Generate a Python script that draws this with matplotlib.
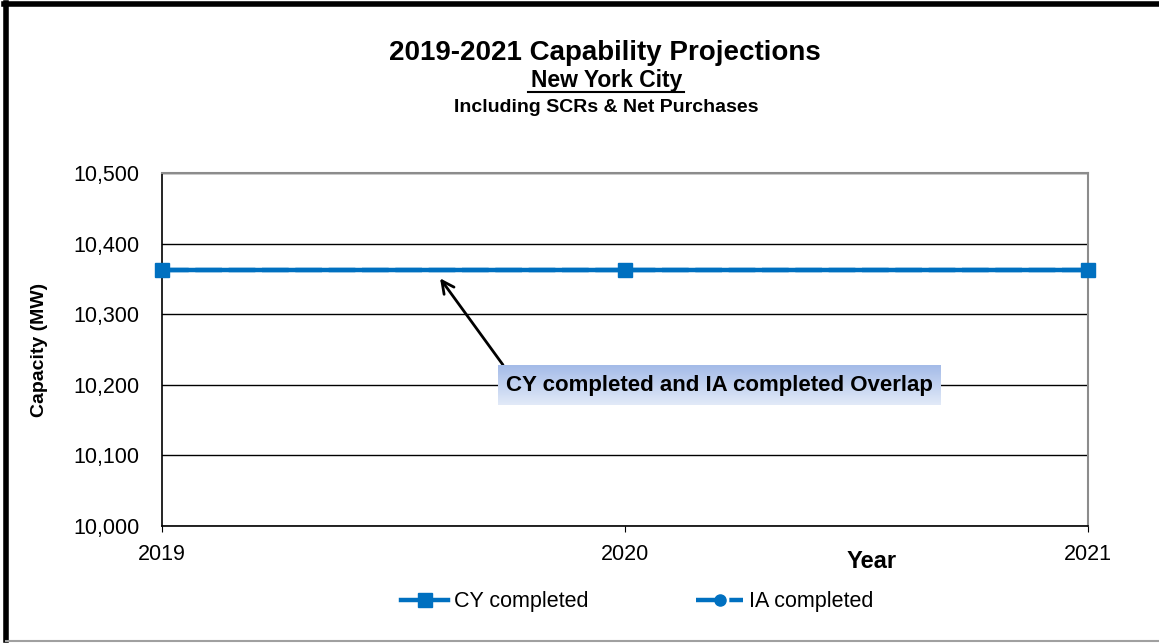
import numpy as np
import matplotlib
matplotlib.use('Agg')
import matplotlib.pyplot as plt
from matplotlib.lines import Line2D

plt.rcParams['font.family'] = ['Liberation Sans', 'DejaVu Sans']

# Capability projections, New York City (MW)
years = [2019, 2020, 2021]
cy_completed = [10362, 10362, 10362]
ia_completed = [10362, 10362, 10362]
y_ticks = [10000, 10100, 10200, 10300, 10400, 10500]

W, H = 1159, 643
fig = plt.figure(figsize=(W / 100, H / 100), dpi=100)
ax = fig.add_axes([162 / W, 1 - 526 / H, (1088 - 162) / W, (526 - 173) / H])

blue = '#0070c0'
ax.plot(years, cy_completed, color=blue, lw=3.2, marker='s', markersize=10,
        label='CY completed', zorder=3, clip_on=False)
ax.plot(years, ia_completed, color=blue, lw=3.2, ls=(0, (6, 1.5)), marker='o',
        markersize=8, label='IA completed', zorder=4, clip_on=False)

ax.set_xlim(2019, 2021)
ax.set_ylim(10000, 10500)
ax.set_xticks(years)
ax.set_yticks(y_ticks)
ax.set_yticklabels([f'{v:,}' for v in y_ticks])
ax.tick_params(axis='both', labelsize=15.5)
ax.tick_params(axis='x', direction='out', length=4, pad=9)
ax.tick_params(axis='y', length=0, pad=16)
ax.grid(axis='y', color='black', lw=1)
ax.set_axisbelow(True)
for s in ['left', 'bottom']:
    ax.spines[s].set_color('black')
    ax.spines[s].set_linewidth(1.2)
for s in ['top', 'right']:
    ax.spines[s].set_color('#8c8c8c')
    ax.spines[s].set_linewidth(1.5)

ax.set_ylabel('Capacity (MW)', fontsize=14, fontweight='bold')
ax.yaxis.set_label_coords((48 - 162) / 926, 0.5)
fig.text(872 / W, 1 - 561 / H, 'Year', fontsize=17, fontweight='bold',
         ha='center', va='center')

# titles
fig.text(605 / W, 1 - 53 / H, '2019-2021 Capability Projections', fontsize=20,
         fontweight='bold', ha='center', va='center')
fig.text(607 / W, 1 - 80 / H, 'New York City', fontsize=16.5,
         fontweight='bold', ha='center', va='center')
fig.add_artist(Line2D([528 / W, 684 / W], [1 - 92 / H, 1 - 92 / H],
                      color='black', lw=1.5))
fig.text(606 / W, 1 - 107 / H, 'Including SCRs & Net Purchases', fontsize=14,
         fontweight='bold', ha='center', va='center')

# gradient box behind the overlap note
bx0, bx1, by0, by1 = 498, 940, 365, 405
gax = fig.add_axes([bx0 / W, 1 - by1 / H, (bx1 - bx0) / W, (by1 - by0) / H])
grad = np.linspace(0, 1, 64)[:, None]
top_c = np.array([0xa4, 0xbb, 0xe8]) / 255
bot_c = np.array([0xe2, 0xea, 0xf8]) / 255
img = top_c[None, None, :] * (1 - grad[:, :, None]) + bot_c[None, None, :] * grad[:, :, None]
gax.imshow(np.repeat(img, 4, axis=1), aspect='auto', extent=[0, 1, 0, 1])
gax.axis('off')
gax.text(0.5, 0.5, 'CY completed and IA completed Overlap', fontsize=16,
         fontweight='bold', ha='center', va='center', transform=gax.transAxes)

ax.annotate('', xy=(2019.597, 10354), xytext=(2019.74, 10225),
            arrowprops=dict(arrowstyle='->', color='black', lw=2,
                            mutation_scale=22))

fig.legend(loc='center', bbox_to_anchor=(637 / W, 1 - 602 / H), ncol=2,
           frameon=False, fontsize=15.5, columnspacing=5.0, handlelength=2.2,
           handletextpad=0.25)

# outer frame
fig.add_artist(Line2D([6 / W, 6 / W], [1 - 3 / H, 1 - 640 / H], color='black', lw=4))
fig.add_artist(Line2D([4 / W, 1], [1 - 3.5 / H, 1 - 3.5 / H], color='black', lw=4))
fig.add_artist(Line2D([6 / W, 1], [1 - 640.5 / H, 1 - 640.5 / H], color='#a0a0a0', lw=1.5))

fig.savefig('out.png', dpi=100)
